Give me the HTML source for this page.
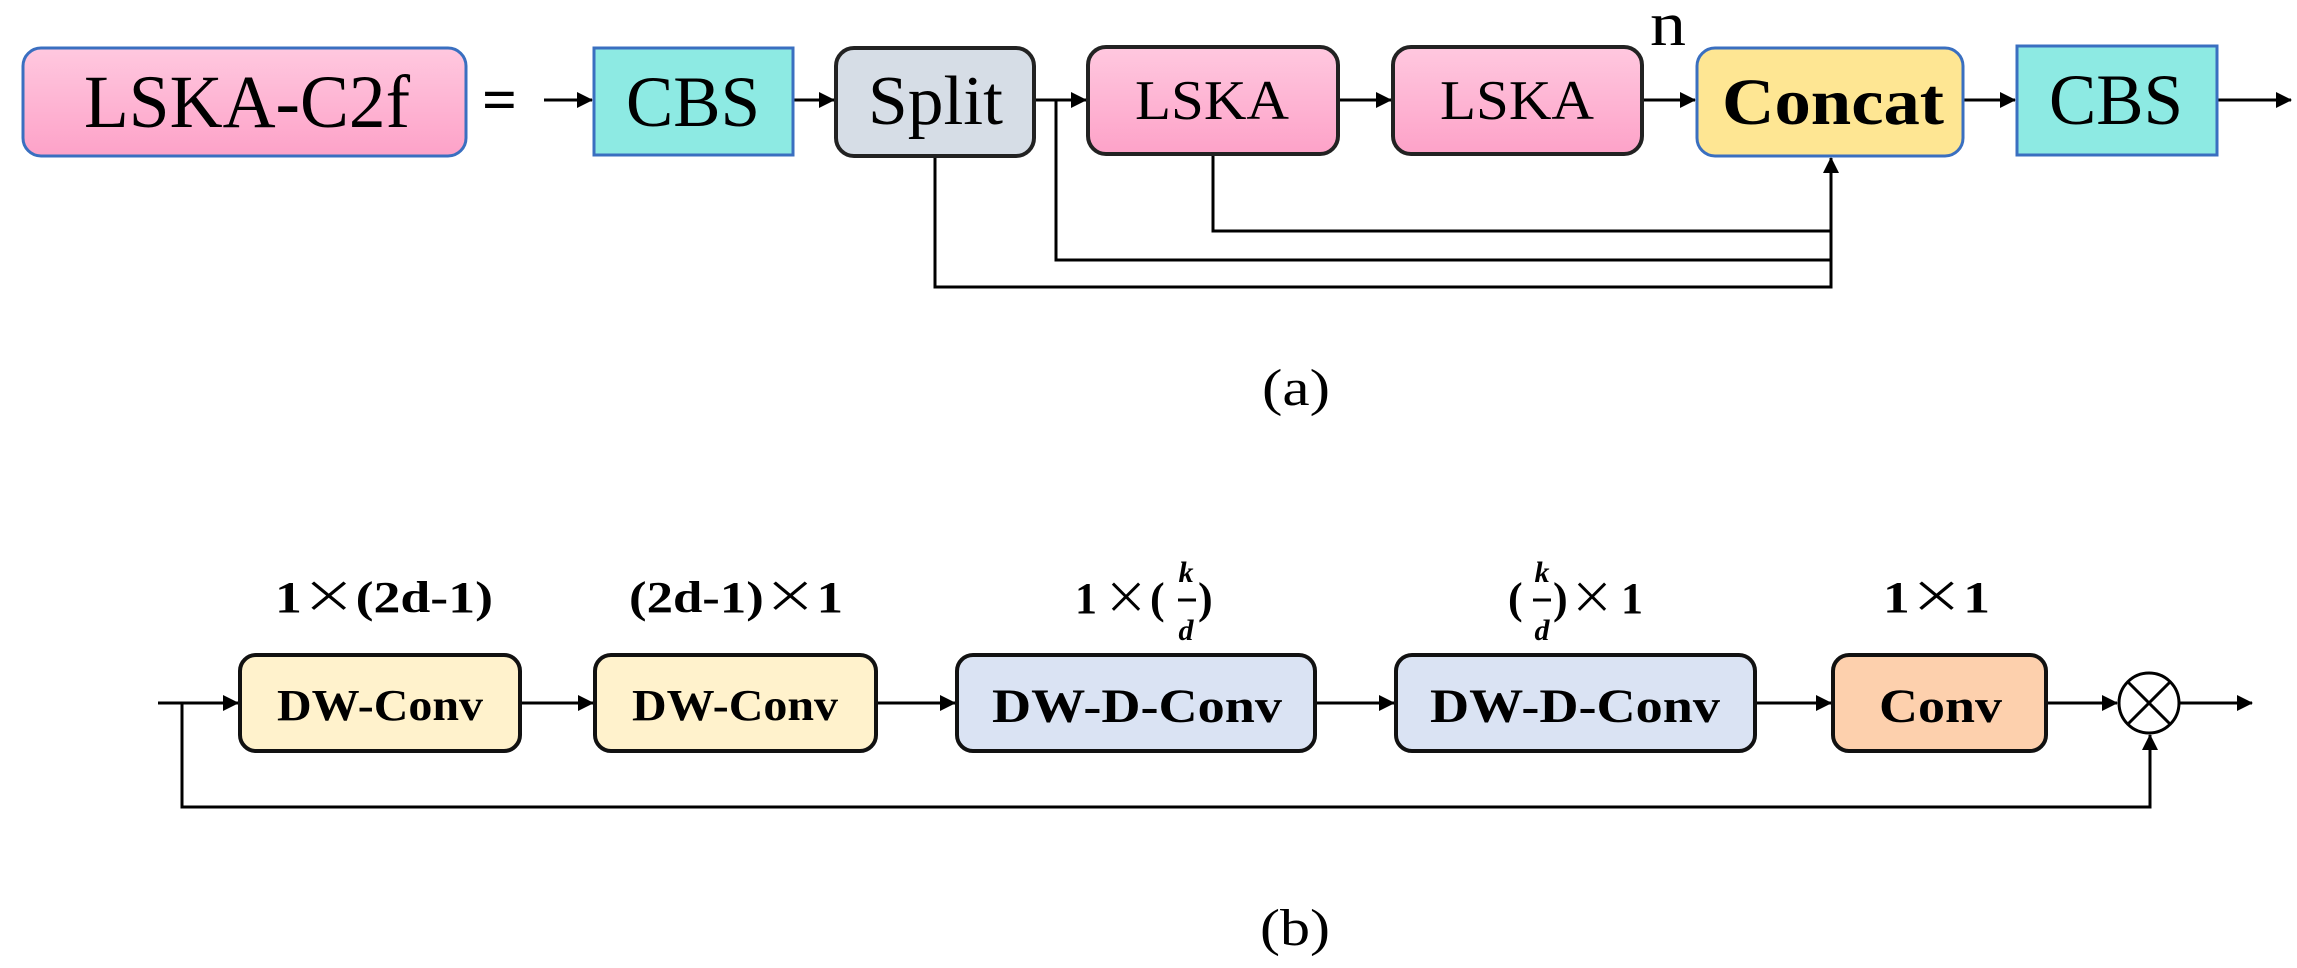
<!DOCTYPE html>
<html><head><meta charset="utf-8"><style>
html,body{margin:0;padding:0;background:#fff;}
svg{display:block;}
</style></head><body>
<svg width="2297" height="968" viewBox="0 0 2297 968" xmlns="http://www.w3.org/2000/svg" font-family="'Liberation Serif', 'Noto Serif CJK SC', serif">
<defs>
<linearGradient id="pk" x1="0" y1="0" x2="0" y2="1"><stop offset="0" stop-color="#ffc8df"/><stop offset="1" stop-color="#fda2c8"/></linearGradient>
<marker id="ar2" markerWidth="16" markerHeight="16" refX="15" refY="8" orient="auto" markerUnits="userSpaceOnUse"><path d="M0,0 L16,8 L0,16 z" fill="#000"/></marker>
</defs>
<g stroke="#000" stroke-width="3" fill="none">
<line x1="544" y1="100" x2="592" y2="100" marker-end="url(#ar2)"/>
<line x1="793" y1="100" x2="834" y2="100" marker-end="url(#ar2)"/>
<line x1="1034" y1="100" x2="1086" y2="100" marker-end="url(#ar2)"/>
<line x1="1338" y1="100" x2="1391" y2="100" marker-end="url(#ar2)"/>
<line x1="1642" y1="100" x2="1695" y2="100" marker-end="url(#ar2)"/>
<line x1="1963" y1="100" x2="2015" y2="100" marker-end="url(#ar2)"/>
<line x1="2217" y1="100" x2="2291" y2="100" marker-end="url(#ar2)"/>
<polyline points="1056,100 1056,260 1831,260"/>
<polyline points="935,156 935,287 1831,287 1831,158" marker-end="url(#ar2)"/>
<polyline points="1213,154 1213,231 1831,231"/>
<line x1="158" y1="703" x2="238" y2="703" marker-end="url(#ar2)"/>
<line x1="520" y1="703" x2="593" y2="703" marker-end="url(#ar2)"/>
<line x1="876" y1="703" x2="955" y2="703" marker-end="url(#ar2)"/>
<line x1="1315" y1="703" x2="1394" y2="703" marker-end="url(#ar2)"/>
<line x1="1755" y1="703" x2="1831" y2="703" marker-end="url(#ar2)"/>
<line x1="2046" y1="703" x2="2117" y2="703" marker-end="url(#ar2)"/>
<line x1="2180" y1="703" x2="2252" y2="703" marker-end="url(#ar2)"/>
<polyline points="182,703 182,807 2150,807 2150,735" marker-end="url(#ar2)"/>
</g>
<rect x="23" y="48" width="443" height="108" rx="18" fill="url(#pk)" stroke="#3a6fc0" stroke-width="3"/>
<text x="84" y="127" font-size="75" textLength="326" lengthAdjust="spacingAndGlyphs">LSKA-C2f</text>
<text x="482" y="120" font-size="60" font-weight="bold" textLength="35" lengthAdjust="spacingAndGlyphs">=</text>
<rect x="594" y="48" width="199" height="107" fill="#8deae3" stroke="#3a6fc0" stroke-width="3"/>
<text x="626" y="126" font-size="72" textLength="134" lengthAdjust="spacingAndGlyphs">CBS</text>
<rect x="836" y="48" width="198" height="108" rx="18" fill="#d6dde6" stroke="#222" stroke-width="4"/>
<text x="868" y="124" font-size="70" textLength="135" lengthAdjust="spacingAndGlyphs">Split</text>
<rect x="1088" y="47" width="250" height="107" rx="18" fill="url(#pk)" stroke="#222" stroke-width="4"/>
<text x="1135" y="119" font-size="56" textLength="154" lengthAdjust="spacingAndGlyphs">LSKA</text>
<rect x="1393" y="47" width="249" height="107" rx="18" fill="url(#pk)" stroke="#222" stroke-width="4"/>
<text x="1440" y="119" font-size="56" textLength="154" lengthAdjust="spacingAndGlyphs">LSKA</text>
<text x="1650" y="45" font-size="62" textLength="36" lengthAdjust="spacingAndGlyphs">n</text>
<rect x="1697" y="48" width="266" height="108" rx="18" fill="#fee693" stroke="#3a6fc0" stroke-width="3"/>
<text x="1722" y="124" font-size="66" font-weight="bold" textLength="222" lengthAdjust="spacingAndGlyphs">Concat</text>
<rect x="2017" y="46" width="200" height="109" fill="#8deae3" stroke="#3a6fc0" stroke-width="3"/>
<text x="2049" y="124" font-size="72" textLength="134" lengthAdjust="spacingAndGlyphs">CBS</text>
<text x="1262" y="405" font-size="52" textLength="68" lengthAdjust="spacingAndGlyphs">(a)</text>
<g font-weight="bold" font-size="44">
<text x="275" y="612" textLength="218" lengthAdjust="spacingAndGlyphs">1<tspan font-family="'Noto Sans CJK SC',sans-serif" font-weight="normal">×</tspan>(2d-1)</text>
<text x="629" y="612" textLength="214" lengthAdjust="spacingAndGlyphs">(2d-1)<tspan font-family="'Noto Sans CJK SC',sans-serif" font-weight="normal">×</tspan>1</text>
<text x="1883" y="612" textLength="107" lengthAdjust="spacingAndGlyphs">1<tspan font-family="'Noto Sans CJK SC',sans-serif" font-weight="normal">×</tspan>1</text>
<text x="1075" y="613">1</text>
<text x="1104" y="613" font-family="'Noto Sans CJK SC',sans-serif" font-weight="normal">×</text>
<text x="1150" y="613">(</text>
<text x="1198" y="613">)</text>
<text x="1186" y="582" font-size="30" font-style="italic" text-anchor="middle">k</text>
<line x1="1178" y1="600" x2="1196" y2="600" stroke="#000" stroke-width="3"/>
<text x="1186" y="640" font-size="30" font-style="italic" text-anchor="middle">d</text>
<text x="1508" y="613">(</text>
<text x="1553" y="613">)</text>
<text x="1570" y="613" font-family="'Noto Sans CJK SC',sans-serif" font-weight="normal">×</text>
<text x="1621" y="613">1</text>
<text x="1542" y="582" font-size="30" font-style="italic" text-anchor="middle">k</text>
<line x1="1533" y1="600" x2="1551" y2="600" stroke="#000" stroke-width="3"/>
<text x="1542" y="640" font-size="30" font-style="italic" text-anchor="middle">d</text>
</g>
<g stroke="#111" stroke-width="4">
<rect x="240" y="655" width="280" height="96" rx="16" fill="#fff2cc"/>
<rect x="595" y="655" width="281" height="96" rx="16" fill="#fff2cc"/>
<rect x="957" y="655" width="358" height="96" rx="16" fill="#dae3f3"/>
<rect x="1396" y="655" width="359" height="96" rx="16" fill="#dae3f3"/>
<rect x="1833" y="655" width="213" height="96" rx="16" fill="#fdd0ad"/>
</g>
<g font-weight="bold">
<text x="277" y="720" font-size="44" textLength="206" lengthAdjust="spacingAndGlyphs">DW-Conv</text>
<text x="632" y="720" font-size="44" textLength="206" lengthAdjust="spacingAndGlyphs">DW-Conv</text>
<text x="992" y="722" font-size="48" textLength="290" lengthAdjust="spacingAndGlyphs">DW-D-Conv</text>
<text x="1430" y="722" font-size="48" textLength="290" lengthAdjust="spacingAndGlyphs">DW-D-Conv</text>
<text x="1879" y="722" font-size="48" textLength="123" lengthAdjust="spacingAndGlyphs">Conv</text>
</g>
<circle cx="2149" cy="703" r="30" fill="#fff" stroke="#000" stroke-width="3"/>
<line x1="2128" y1="682" x2="2170" y2="724" stroke="#000" stroke-width="3"/>
<line x1="2170" y1="682" x2="2128" y2="724" stroke="#000" stroke-width="3"/>
<text x="1260" y="945" font-size="52" textLength="70" lengthAdjust="spacingAndGlyphs">(b)</text>
</svg>
</body></html>
